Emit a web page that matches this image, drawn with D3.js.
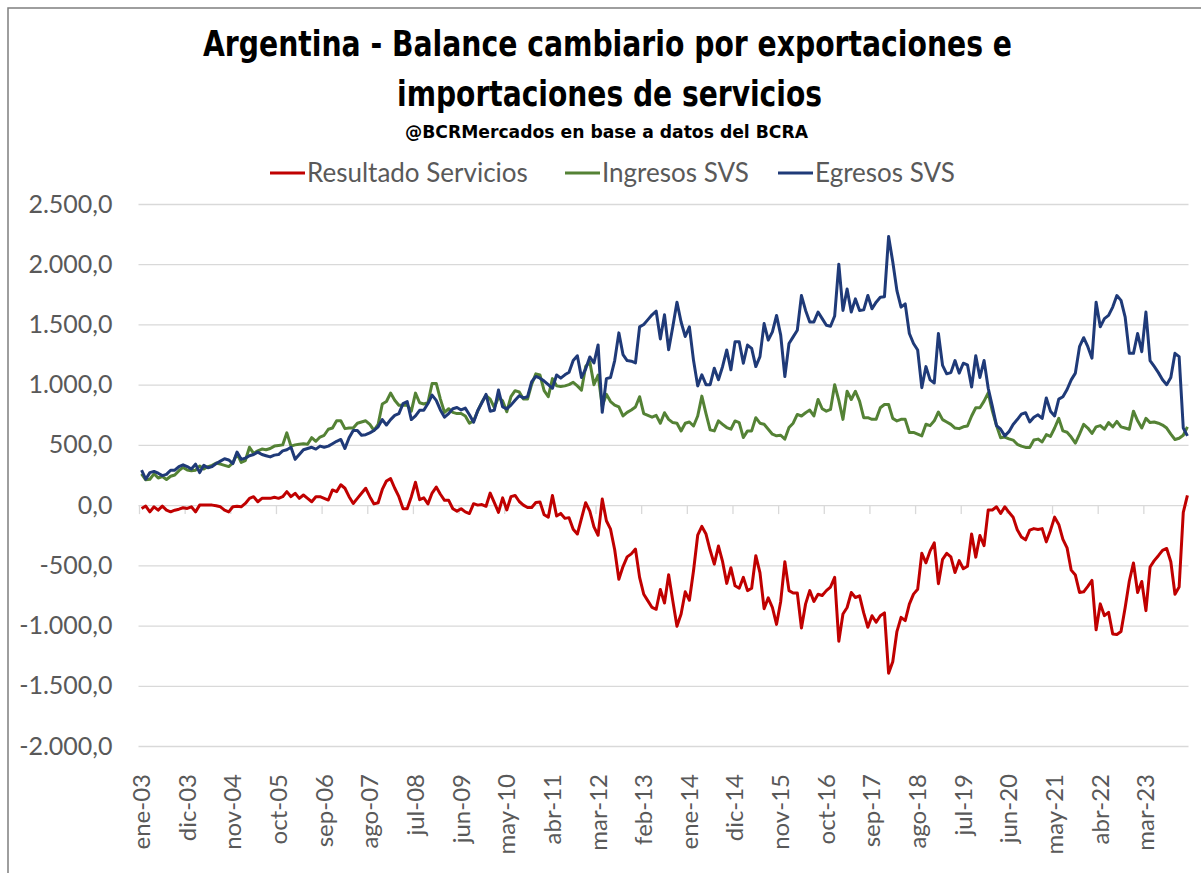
<html>

<head>
  <title>Argentina - Balance cambiario servicios</title>
  <script src="https://d3js.org/d3.v7.min.js"></script>
  <style>
    body {
      margin: 0;
      background: white;
      font-family: 'Lato', 'Liberation Sans', sans-serif;
    }

    .grid line {
      stroke: #d9d9d9;
      stroke-width: 1.3;
    }

    .ticks line {
      stroke: #d9d9d9;
      stroke-width: 1.3;
    }
  </style>
</head>

<body>

  <svg id="chart" width="1201" height="873"></svg>

  <script>

    // ======
    //  DATA
    // ======
    // monthly values, ene-03 .. ene-24 (USD millones)
    const egresos = [
      290, 215, 270, 280, 265, 245, 255, 290, 290, 320, 335, 320,
      300, 340, 270, 330, 310, 320, 345, 365, 385, 375, 345, 440,
      380, 390, 410, 420, 440, 420, 410, 400, 415, 420, 450, 460,
      480, 380, 420, 460, 470, 480, 465, 490, 480, 490, 510, 530,
      545, 470, 560, 620, 620, 580, 585, 600, 620, 650, 710, 665,
      710, 745, 760, 843, 860, 710, 740, 787, 787, 843, 913, 870,
      790, 730, 760, 800, 810, 790, 805, 750, 688, 785, 850, 920,
      780, 787, 955, 815, 800, 830, 870, 908, 890, 900, 1025, 1068,
      1054, 1030, 1000, 970, 1080, 1054, 1082, 1104, 1200, 1240, 1060, 1130,
      1230, 1180, 1330, 770, 1050, 1060, 1200, 1430, 1250, 1200, 1195, 1180,
      1480, 1500, 1540, 1580, 1610, 1380, 1580, 1290, 1480, 1685, 1520, 1400,
      1480, 1200, 990, 1082, 1000, 1000, 1137, 1041, 1151, 1288, 1123, 1356,
      1356, 1178, 1329, 1301, 1150, 1233, 1507, 1370, 1438, 1575, 1411, 1068,
      1342, 1397, 1452, 1740, 1616, 1521, 1521, 1603, 1548, 1493, 1485, 1570,
      2000, 1616, 1795, 1603, 1712, 1616, 1621, 1740, 1630, 1685, 1726, 1730,
      2230, 2020, 1781, 1644, 1671, 1425, 1342, 1288, 975, 1150, 1040, 1014,
      1425, 1160, 1090, 1100, 1200, 1096, 1178, 1165, 980, 1240, 1060, 1200,
      970, 820, 660, 630, 575, 610, 670, 710, 755, 767, 690, 730,
      750, 720, 890, 780, 740, 880, 900, 960, 1040, 1096, 1315, 1390,
      1315, 1220, 1685, 1480, 1548, 1575, 1644, 1740, 1700, 1560, 1260, 1260,
      1425, 1274, 1603, 1200, 1151, 1100, 1041, 1000, 1060, 1260, 1233, 640,
      575
    ];

    const ingresos = [
      260, 210, 215, 260, 225, 237, 213, 240, 250, 286, 313, 292,
      285, 290, 325, 300, 320, 330, 350, 340, 330, 320, 350, 430,
      355, 370, 480, 430, 450, 465, 460, 470, 490, 495, 500, 600,
      490, 500, 505, 510, 505, 560, 530, 565, 580, 630, 640, 700,
      700, 635, 640, 640, 680, 690, 700, 670, 620, 670, 840, 860,
      930, 871, 829, 830, 830, 780, 930, 850, 840, 850, 1010, 1010,
      880, 770, 800, 770, 760, 760, 740, 680, 700, 780, 855, 910,
      880, 810, 895, 865, 775, 900, 950, 940, 880, 880, 1005, 1090,
      1080, 950, 900, 1050, 990, 985, 990, 1000, 1020, 990, 955, 1150,
      1190, 1000, 1080, 820, 920, 860, 830, 815, 740, 770, 790, 815,
      900, 760, 745, 730, 745, 680, 767, 712, 685, 680, 616, 680,
      690, 657, 740, 905, 760, 625, 616, 699, 671, 644, 630, 699,
      685, 561, 616, 616, 726, 680, 671, 630, 589, 575, 580, 548,
      644, 680, 753, 740, 767, 789, 740, 877, 800, 780, 794, 1000,
      870, 712, 945, 877, 945, 863, 726, 726, 712, 712, 808, 835,
      835, 720, 699, 712, 712, 603, 603, 589, 575, 671, 660, 700,
      773, 710, 690, 670, 640, 635, 650, 657, 740, 808, 808, 863,
      932, 780, 660, 560, 565, 550, 540, 505, 490, 479, 479, 540,
      548, 525, 585, 570, 640, 720, 616, 605, 565, 515, 590, 670,
      640, 595, 650, 660, 630, 685, 650, 695, 650, 640, 630, 780,
      700, 640, 720, 685, 690, 680, 665, 640, 590, 545, 555, 580,
      650
    ];

    const resultado = [
      -28, -8, -56, -14, -42, -8, -42, -56, -42, -34, -22, -28,
      -14, -56, 0, 0, 0, 0, -6, -14, -42, -56, -14, -10,
      -14, 14, 56, 70, 28, 56, 56, 56, 65, 56, 70, 112,
      70, 98, 56, 84, 56, 28, 70, 70, 56, 42, 126, 112,
      169, 140, 70, 14, 56, 98, 140, 70, 10, 20, 130, 200,
      220, 140, 70, -30, -30, 70, 190, 45, 60, 10, 100, 150,
      90, 40, 40, -30, -50, -30, -56, -70, 12, 0, 5, -10,
      100, 20, -60, 60, -40, 70, 80, 30, 0, -20, -20, 22,
      26, -80, -100, 80, -90, -69, -110, -104, -200, -240, -110, 20,
      -50, -180, -250, 50, -130, -200, -370, -615, -510, -430, -405, -365,
      -600, -740, -795, -850, -865, -700, -813, -578, -795, -1005, -904, -720,
      -790, -543, -250, -177, -240, -375, -490, -340, -470, -650, -520, -670,
      -690, -600, -710, -690, -420, -560, -860, -770, -850, -990, -800, -470,
      -710, -730, -730, -1020, -820, -710, -800, -740, -750, -710, -680, -600,
      -1130, -904, -850, -726, -767, -753, -895, -1014, -918, -973, -918, -895,
      -1395, -1300, -1050, -932, -959, -822, -739, -699, -400, -479, -380, -314,
      -652, -450, -400, -430, -560, -461, -528, -508, -240, -432, -252, -337,
      -40, -40, -14, -70, -14, -60, -100, -205, -265, -288, -208, -195,
      -202, -195, -305, -210, -100, -160, -284, -355, -540, -581, -725, -720,
      -675, -625, -1035, -820, -918, -890, -1070, -1075, -1050, -850, -630, -480,
      -725, -634, -876, -514, -461, -420, -376, -360, -470, -740, -680, -60,
      80
    ];

    const monthNames = ["ene", "feb", "mar", "abr", "may", "jun", "jul", "ago", "sep", "oct", "nov", "dic"];
    const categories = egresos.map((d, i) =>
      monthNames[i % 12] + "-" + String(3 + Math.floor(i / 12)).padStart(2, "0"));

    const tickLabels = ["ene-03", "dic-03", "nov-04", "oct-05", "sep-06", "ago-07", "jul-08", "jun-09",
      "may-10", "abr-11", "mar-12", "feb-13", "ene-14", "dic-14", "nov-15", "oct-16", "sep-17",
      "ago-18", "jul-19", "jun-20", "may-21", "abr-22", "mar-23"];

    const yTicks = [-2000, -1500, -1000, -500, 0, 500, 1000, 1500, 2000, 2500];

    const seriesNames = ["Resultado Servicios", "Ingresos SVS", "Egresos SVS"];
    const seriesColors = ["#c00000", "#548235", "#1f3a78"];
    const series = [resultado, ingresos, egresos].map((values, k) =>
      ({ name: seriesNames[k], color: seriesColors[k], values: values }));

    // ----------
    // DIMENSIONS
    // ----------
    const svg = d3.select("svg#chart");
    const plot = { left: 139.5, right: 1189.5, top: 204, bottom: 746 };

    // outer frame
    svg.append("rect")
      .attr("x", 8).attr("y", 8)
      .attr("width", 1260).attr("height", 940)
      .attr("fill", "white")
      .attr("stroke", "#7f7f7f")
      .attr("stroke-width", 1.5);

    // ======
    // SCALES
    // ======
    const xScale = d3.scaleBand()
      .domain(categories)
      .range([plot.left, plot.right])
      .paddingInner(0).paddingOuter(0);

    const yScale = d3.scaleLinear()
      .domain([-2000, 2500])
      .range([plot.bottom, plot.top]);

    const esLocale = d3.formatLocale({ decimal: ",", thousands: ".", grouping: [3], currency: ["$", ""], minus: "-" });
    const fmt = esLocale.format(",.1f");

    // ======
    //  AXES
    // ======
    // horizontal gridlines
    svg.append("g")
      .attr("class", "grid")
      .attr("transform", `translate(${plot.left - 1},0)`)
      .call(d3.axisLeft(yScale).tickValues(yTicks).tickSize(-(plot.right - plot.left)).tickFormat(""))
      .call(g => g.select(".domain").remove());

    // y labels
    svg.append("g")
      .attr("transform", `translate(${plot.left},0)`)
      .call(d3.axisLeft(yScale).tickValues(yTicks).tickSize(0).tickPadding(27).tickFormat(fmt))
      .call(g => g.select(".domain").remove())
      .call(g => g.selectAll("text")
        .attr("fill", "#595959")
        .style("font-family", "Lato, sans-serif")
        .style("font-size", "25px"));

    // tick marks on the zero line (between categories)
    svg.append("g")
      .attr("class", "ticks")
      .attr("transform", `translate(${-xScale.bandwidth() / 2},${yScale(0)})`)
      .call(d3.axisBottom(xScale).tickValues(tickLabels).tickSize(9).tickSizeOuter(0).tickFormat(""))
      .call(g => g.select(".domain").remove());

    // x labels, rotated
    svg.append("g")
      .attr("transform", `translate(0,${plot.bottom})`)
      .call(d3.axisBottom(xScale).tickValues(tickLabels).tickSize(0))
      .call(g => g.select(".domain").remove())
      .call(g => g.selectAll("text")
        .attr("transform", "rotate(-90)")
        .attr("text-anchor", "end")
        .attr("x", -28)
        .attr("y", 0)
        .attr("dy", "0.35em")
        .attr("fill", "#595959")
        .style("font-family", "Lato, sans-serif")
        .style("font-size", "24px"));

    // ======
    //  LINES
    // ======
    const line = d3.line()
      .x((d, i) => xScale(categories[i]) + xScale.bandwidth() / 2)
      .y(d => yScale(d));

    svg.append("g").selectAll("path.serie")
      .data(series)
      .join("path").attr("class", "serie")
      .attr("fill", "none")
      .attr("stroke", d => d.color)
      .attr("stroke-width", 3)
      .attr("stroke-linejoin", "round")
      .attr("d", d => line(d.values));

    // ======
    // TITLES
    // ======
    const titleFont = "'Liberation Sans Narrow', 'DejaVu Sans Condensed', 'Roboto', sans-serif";
    svg.append("text")
      .attr("x", 203).attr("y", 56)
      .attr("textLength", 809).attr("lengthAdjust", "spacingAndGlyphs")
      .style("font-family", titleFont).style("font-weight", "bold").style("font-size", "35px")
      .attr("fill", "black")
      .text("Argentina - Balance cambiario por exportaciones e");
    svg.append("text")
      .attr("x", 397).attr("y", 106)
      .attr("textLength", 425).attr("lengthAdjust", "spacingAndGlyphs")
      .style("font-family", titleFont).style("font-weight", "bold").style("font-size", "35px")
      .attr("fill", "black")
      .text("importaciones de servicios");
    svg.append("text")
      .attr("x", 405).attr("y", 138)
      .attr("textLength", 403).attr("lengthAdjust", "spacingAndGlyphs")
      .style("font-family", titleFont).style("font-weight", "bold").style("font-size", "18px")
      .attr("fill", "black")
      .text("@BCRMercados en base a datos del BCRA");

    // ======
    // LEGEND
    // ======
    const legendX = [270, 565, 778];
    const legend = svg.append("g").selectAll("g")
      .data(series)
      .join("g")
      .attr("transform", (d, i) => `translate(${legendX[i]},173)`);
    legend.append("line")
      .attr("x1", 0).attr("x2", 35)
      .attr("stroke", d => d.color)
      .attr("stroke-width", 3);
    legend.append("text")
      .attr("x", 37).attr("y", 9)
      .attr("fill", "#595959")
      .style("font-family", "Lato, sans-serif")
      .style("font-size", "26px")
      .text(d => d.name);

  </script>

</body>

</html>
